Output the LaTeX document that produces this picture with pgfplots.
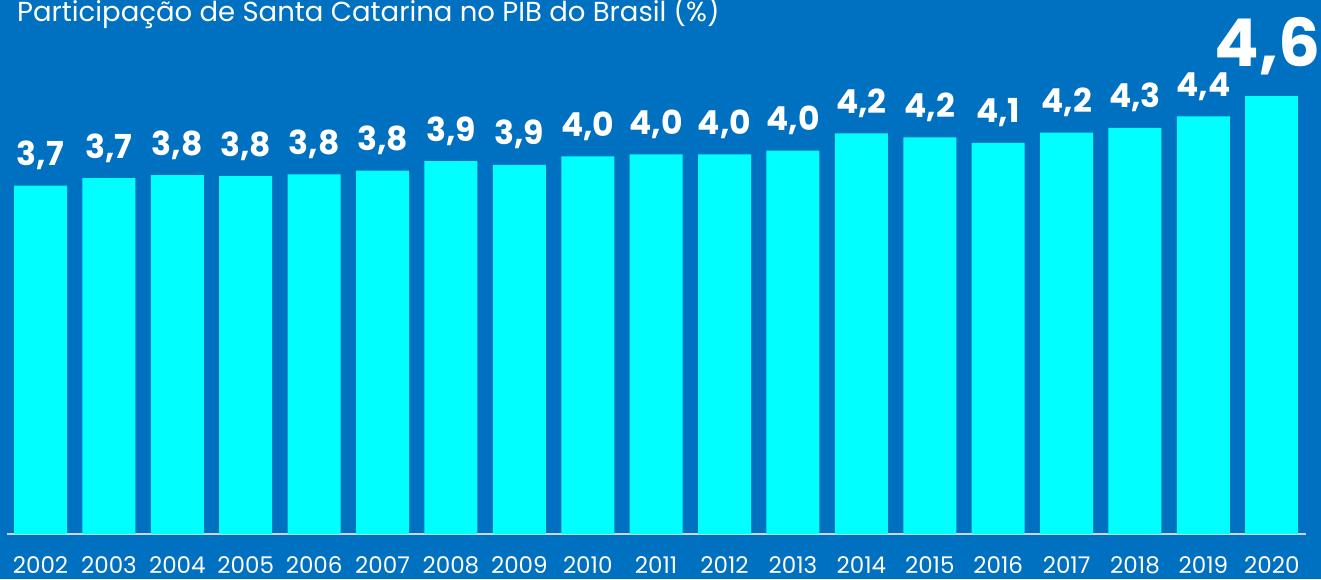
\documentclass[border=0pt]{standalone}
\usepackage{pgfplots}
\pgfplotsset{compat=1.18}
\usepackage{pgfplotstable}
\usepackage{fontspec}
\setmainfont{Poppins}
\definecolor{bgblue}{RGB}{0,112,192}
\definecolor{barcyan}{RGB}{0,255,255}
\definecolor{baseln}{RGB}{205,215,225}

% participação de SC no PIB (%), 2002-2019
\pgfplotstableread{
x y lab
0 3.67 3,7
1 3.75 3,7
2 3.78 3,8
3 3.77 3,8
4 3.79 3,8
5 3.83 3,8
6 3.93 3,9
7 3.89 3,9
8 3.98 4,0
9 4.00 4,0
10 4.00 4,0
11 4.04 4,0
12 4.22 4,2
13 4.18 4,2
14 4.12 4,1
15 4.23 4,2
16 4.28 4,3
17 4.40 4,4
}\datamain
% 2020 gets the big label
\pgfplotstableread{
x y lab
18 4.61 4,6
}\datalast

\begin{document}
\begin{tikzpicture}
\fill[bgblue] (0pt,0pt) rectangle (1321pt,579pt);
\useasboundingbox (0pt,0pt) rectangle (1321pt,579pt);
\node[anchor=base west, text=white, inner sep=0pt,
  font=\fontsize{27.5}{30}\selectfont] at (17pt,557pt)
  {Participação de Santa Catarina no PIB do Brasil (\%)};
\begin{axis}[
    at={(7pt,45pt)}, anchor=south west,
    scale only axis, width=1299pt, height=522pt,
    xmin=-0.49, xmax=18.5, ymin=0, ymax=5.5,
    ybar, bar width=53pt, bar shift=0pt,
    axis x line*=bottom, axis y line=none,
    axis line style={-, draw=baseln, line width=2pt},
    xtick={0,...,18},
    xticklabels={2002,2003,2004,2005,2006,2007,2008,2009,2010,2011,2012,2013,2014,2015,2016,2017,2018,2019,2020},
    major tick length=0pt,
    xticklabel style={text=white, font=\fontsize{23}{26}\selectfont,
      anchor=north, inner sep=0pt, yshift=-22pt},
    clip=false,
    point meta=explicit symbolic,
    nodes near coords,
]
\addplot[fill=barcyan, draw=none,
  every node near coord/.append style={text=white, anchor=base,
    inner sep=0pt, yshift=20pt, font=\bfseries\fontsize{33}{36}\selectfont}]
  table[x=x, y=y, meta=lab] {\datamain};
\addplot[fill=barcyan, draw=none,
  every node near coord/.append style={text=white, anchor=base,
    inner sep=0pt, yshift=30pt, xshift=-4pt, font=\bfseries\fontsize{66}{70}\selectfont}]
  table[x=x, y=y, meta=lab] {\datalast};
\end{axis}
\end{tikzpicture}
\end{document}
